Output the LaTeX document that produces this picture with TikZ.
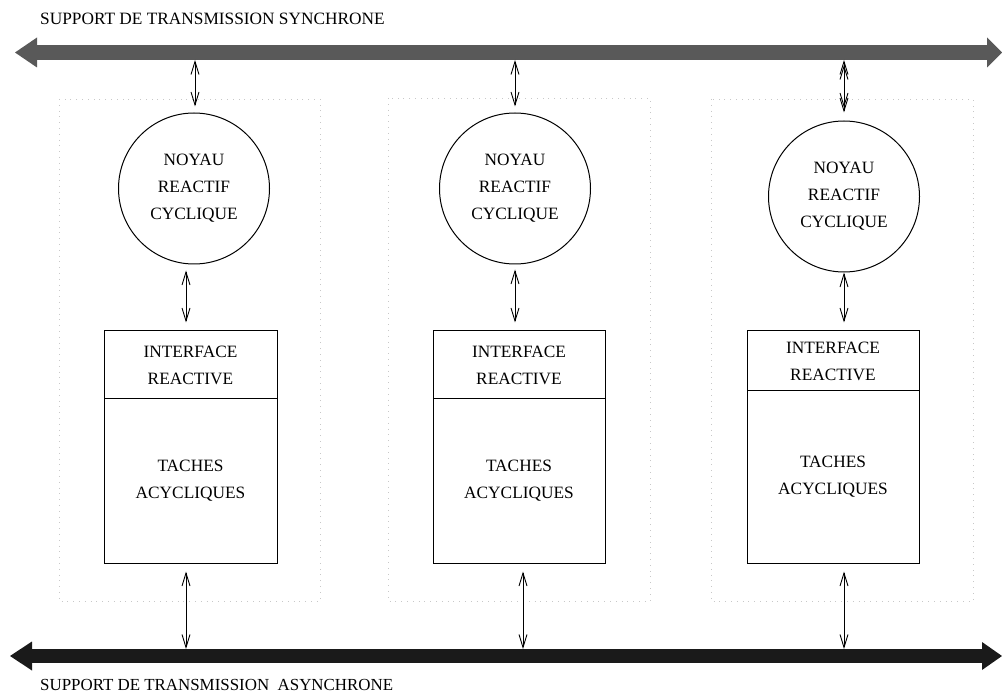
\documentclass[tikz,border=0pt]{standalone}
\usepackage{fontspec}
\setmainfont{Liberation Serif}
\usetikzlibrary{arrows.meta,calc}
\definecolor{syncbus}{HTML}{595959}
\definecolor{asyncbus}{HTML}{1A1A1A}
\definecolor{zonegray}{HTML}{C8C8C8}

\begin{document}
\begin{tikzpicture}[x=1pt,y=-1pt,
  lbl/.style={font=\fontsize{17.3}{27}\selectfont, align=center},
  kernel/.style={draw, circle, line width=1pt, minimum size=151pt, inner sep=0pt, lbl},
  part/.style={draw, rectangle, line width=1pt, inner sep=0pt, lbl},
  zone/.style={draw=zonegray, dash pattern=on 0.8pt off 5pt, line width=0.8pt},
  link/.style={line width=0.9pt, {Straight Barb[length=13pt,width=8pt]}-{Straight Barb[length=13pt,width=8pt]}},
  buslbl/.style={anchor=base west, inner sep=0pt}
]
\useasboundingbox (0,0) rectangle (1002,700);

% dotted frames around each site
\draw[zone] (59,99) rectangle (320,601);
\draw[zone] (388,98) rectangle (650,601);
\draw[zone] (711,99) rectangle (973,601);

% buses
\coordinate (sl) at (15,52.5);
\coordinate (sr) at (1002,52.5);
\coordinate (al) at (10,656);
\coordinate (ar) at (1002,656);
\draw[syncbus, line width=15pt,
  {Triangle[length=22pt,width=30pt,line width=0pt]}-{Triangle[length=15pt,width=30pt,line width=0pt]}] (sl) -- (sr);
\draw[asyncbus, line width=14pt,
  {Triangle[length=22pt,width=29pt,line width=0pt]}-{Triangle[length=20pt,width=28pt,line width=0pt]}] (al) -- (ar);

\node[buslbl, font=\fontsize{17.3}{20}\selectfont] (tsync) at (40,25) {SUPPORT DE TRANSMISSION SYNCHRONE};
\node[buslbl, font=\fontsize{16.9}{20}\selectfont] (tasync) at (40,690) {SUPPORT DE TRANSMISSION\ \ ASYNCHRONE};

% reactive kernels
\node[kernel] (c1) at (194,188.5) {NOYAU\\REACTIF\\CYCLIQUE};
\node[kernel] (c2) at (515,188.5) {NOYAU\\REACTIF\\CYCLIQUE};
\node[kernel] (c3) at (844,196.5) {NOYAU\\REACTIF\\CYCLIQUE};

% interface + task blocks
\node[part, minimum width=173pt, minimum height=68pt] (i1) at (190.5,365) {INTERFACE\\REACTIVE};
\node[part, minimum width=173pt, minimum height=164pt] (t1) at (190.5,481) {TACHES\\ACYCLIQUES};
\node[part, minimum width=172pt, minimum height=68pt] (i2) at (519,365) {INTERFACE\\REACTIVE};
\node[part, minimum width=172pt, minimum height=164pt] (t2) at (519,481) {TACHES\\ACYCLIQUES};
\node[part, minimum width=172pt, minimum height=60pt] (i3) at (833,361) {INTERFACE\\REACTIVE};
\node[part, minimum width=172pt, minimum height=172pt] (t3) at (833,477) {TACHES\\ACYCLIQUES};

% bus attachment points
\coordinate (s1) at (195,60);
\coordinate (s2) at (515,60);
\coordinate (s3) at (844,60);
\coordinate (a1) at (186,649);
\coordinate (a2) at (523,649);
\coordinate (a3) at (844,649);

% synchronous bus <-> kernels
\draw[link] (s1) -- ($(c1.north)+(1,-6)$);
\draw[link] (s2) -- ($(c2.north)+(0,-6)$);
% third site: the link is drawn twice, the second copy slightly shorter
\draw[link] (s3) -- ($(c3.north)+(0,-8)$);
\draw[link, shorten <=5pt, shorten >=5pt] (s3) -- ($(c3.north)+(0,-8)$);

% kernels <-> interfaces
\draw[link] ($(c1.south)+(-8,6)$) -- ($(i1.north)+(-4.5,-8)$);
\draw[link] ($(c2.south)+(0,5)$) -- ($(i2.north)+(-4,-8)$);
\draw[link] ($(c3.south)+(0,0)$) -- ($(i3.north)+(11,-8)$);

% tasks <-> asynchronous bus
\draw[link] ($(t1.south)+(-4.5,8)$) -- (a1);
\draw[link] ($(t2.south)+(4,8)$) -- (a2);
\draw[link] ($(t3.south)+(11,8)$) -- (a3);
\end{tikzpicture}
\end{document}
